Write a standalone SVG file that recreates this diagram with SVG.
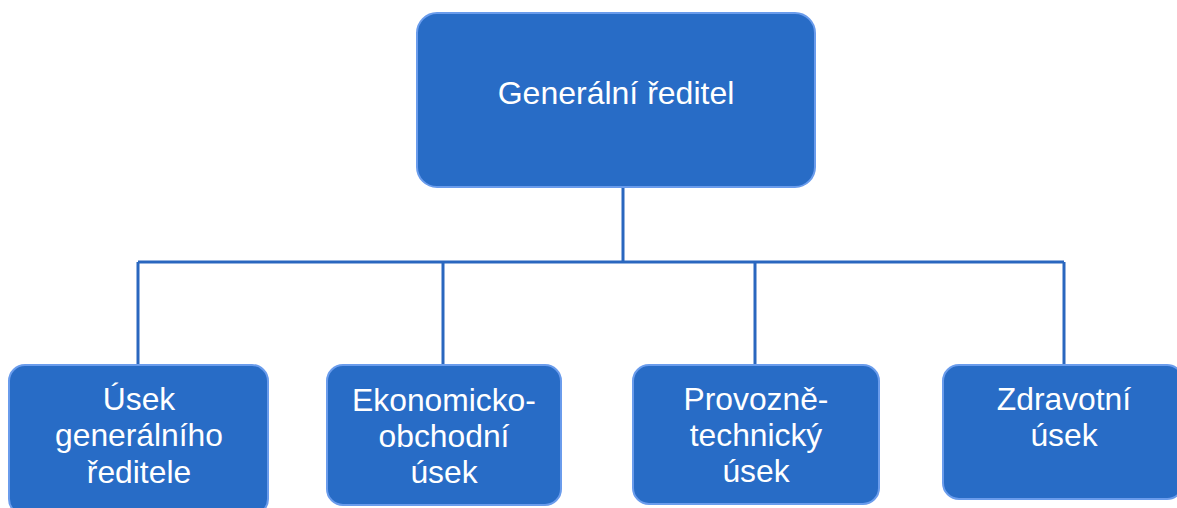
<svg xmlns="http://www.w3.org/2000/svg" width="1177" height="508" viewBox="0 0 1177 508">
<style>
.box{fill:#286cc6;stroke:#6a9cec;stroke-width:2}
.lbl{fill:#ffffff;font-family:"Liberation Sans",Arial,sans-serif;font-size:31.8px;text-anchor:middle}
.top{font-size:32px}
.con{fill:none;stroke:#2a67bf;stroke-width:3}
</style>
<rect width="1177" height="508" fill="#ffffff"/>
<g id="connectors">
<path class="con" d="M623 187V262M138 262H1064M138 262V365M443 262V365M755 262V365M1064 262V365"/>
</g>
<g id="n0">
<rect class="box" x="417" y="13" width="398" height="174" rx="20"/>
<text class="lbl top" x="616" y="104">Generální ředitel</text>
</g>
<g id="n1">
<rect class="box" x="9" y="365" width="259" height="150" rx="16"/>
<text class="lbl" x="139" y="410">Úsek</text>
<text class="lbl" x="139" y="446">generálního</text>
<text class="lbl" x="139" y="483">ředitele</text>
</g>
<g id="n2">
<rect class="box" x="327" y="365" width="234" height="140" rx="16"/>
<text class="lbl" x="444" y="411">Ekonomicko-</text>
<text class="lbl" x="444" y="447">obchodní</text>
<text class="lbl" x="444" y="483">úsek</text>
</g>
<g id="n3">
<rect class="box" x="633" y="365" width="246" height="139" rx="16"/>
<text class="lbl" x="756" y="410">Provozně-</text>
<text class="lbl" x="756" y="446">technický</text>
<text class="lbl" x="756" y="482">úsek</text>
</g>
<g id="n4">
<rect class="box" x="943" y="365" width="240" height="134" rx="16"/>
<text class="lbl" x="1064" y="410">Zdravotní</text>
<text class="lbl" x="1064" y="446">úsek</text>
</g>
</svg>
